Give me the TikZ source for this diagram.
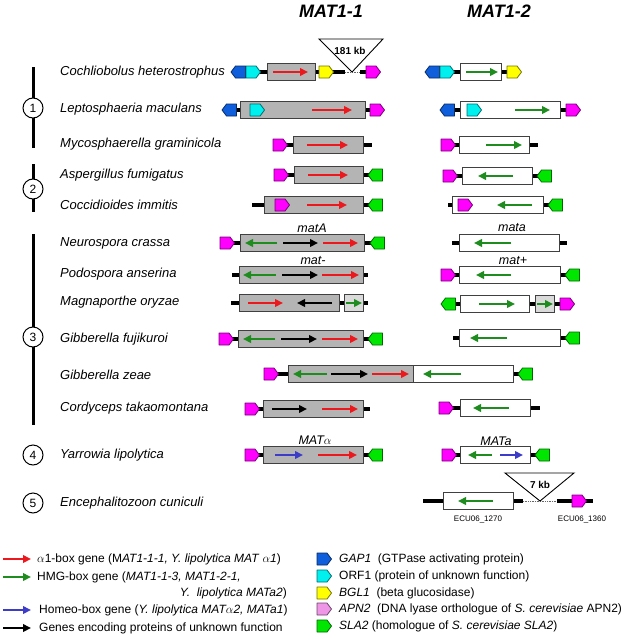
\documentclass[tikz,border=0pt]{standalone}
\usepackage{fontspec}
\setmainfont{Liberation Sans}
\usetikzlibrary{arrows.meta}
\definecolor{cred}{RGB}{235,25,30}
\definecolor{cgreen}{RGB}{30,140,30}
\definecolor{cblue}{RGB}{60,60,200}
\definecolor{pblue}{RGB}{15,95,220}
\definecolor{pcyan}{RGB}{0,240,240}
\definecolor{pyellow}{RGB}{255,255,0}
\definecolor{pmag}{RGB}{255,0,255}
\definecolor{pgreen}{RGB}{0,230,0}
\definecolor{ppink}{RGB}{240,150,230}
\definecolor{gbox}{RGB}{180,180,180}
\definecolor{lbox}{RGB}{218,218,218}
\tikzset{
 lnk/.style={line width=3.8pt, black},
 bx/.style={draw=black!75, line width=0.9pt},
 pent/.style={line width=0.8pt, line join=round},
 arr/.style={line width=2.7pt, -{Triangle[length=8pt,width=7.5pt]}},
 dots/.style={densely dotted, line width=0.7pt, black!60},
 spec/.style={font=\fontsize{13}{15}\selectfont\itshape, anchor=west, inner sep=0pt},
 leg/.style={font=\fontsize{12}{14}\selectfont, anchor=west, inner sep=0pt},
 grp/.style={circle, draw, line width=1pt, fill=white, minimum size=20pt, inner sep=0pt, font=\fontsize{12}{14}\selectfont},
 lbl/.style={font=\fontsize{12.5}{14}\selectfont\itshape, inner sep=0pt},
 tri/.style={draw, line width=0.9pt, line join=miter},
 kb/.style={font=\fontsize{10}{12}\selectfont\bfseries, inner sep=0pt},
 ecu/.style={font=\fontsize{8}{10}\selectfont, inner sep=0pt},
 ttl/.style={font=\fontsize{18}{20}\selectfont\bfseries\itshape, inner sep=0pt},
 gbar/.style={line width=3pt}
}
\newcommand\LinkSeg[3]{\draw[lnk] (#1,#3) -- (#2,#3);}
\newcommand\GBox[4]{\draw[bx,fill=#4] (#1,{#3-8.5}) rectangle (#2,{#3+8.5});}
\newcommand\GeneR[3]{\draw[pent,fill=#3,draw=#3!45!black] (#1,{#2-6}) -- ({#1+10},{#2-6}) -- ({#1+14.5},#2) -- ({#1+10},{#2+6}) -- (#1,{#2+6}) -- cycle;}
\newcommand\GeneL[3]{\draw[pent,fill=#3,draw=#3!45!black] ({#1+14.5},{#2-6}) -- ({#1+4.5},{#2-6}) -- (#1,#2) -- ({#1+4.5},{#2+6}) -- ({#1+14.5},{#2+6}) -- cycle;}
\newcommand\GArr[4]{\draw[arr,#4] (#1,#3) -- (#2,#3);}
\begin{document}
\begin{tikzpicture}[x=1pt,y=-1pt]
\useasboundingbox (0,0) rectangle (623,637);
% titles
\node[ttl] (t1) at (331,11) {MAT1-1};
\node[ttl] (t2) at (499,11) {MAT1-2};
% group bars and circles
\draw[gbar] (33,67) -- (33,148);
\draw[gbar] (33,164) -- (33,212);
\draw[gbar] (33,234) -- (33,425);
\node[grp] (g1) at (33,108) {1};
\node[grp] (g2) at (33,189) {2};
\node[grp] (g3) at (33,337) {3};
\node[grp] (g4) at (33,455) {4};
\node[grp] (g5) at (33,503) {5};
% species
\node[spec] (s1) at (60,72) {Cochliobolus heterostrophus};
\node[spec] (s2) at (60,109) {Leptosphaeria maculans};
\node[spec] (s3) at (60,144) {Mycosphaerella graminicola};
\node[spec] (s4) at (60,175) {Aspergillus fumigatus};
\node[spec] (s5) at (60,205) {Coccidioides immitis};
\node[spec] (s6) at (60,243) {Neurospora crassa};
\node[spec] (s7) at (60,274) {Podospora anserina};
\node[spec] (s8) at (60,302) {Magnaporthe oryzae};
\node[spec] (s9) at (60,339) {Gibberella fujikuroi};
\node[spec] (s10) at (60,375) {Gibberella zeae};
\node[spec] (s11) at (60,408) {Cordyceps takaomontana};
\node[spec] (s12) at (60,455) {Yarrowia lipolytica};
\node[spec] (s13) at (60,503) {Encephalitozoon cuniculi};
% Row 1
\LinkSeg{240}{345}{72}
\draw[dots] (345,72) -- (360,72);
\LinkSeg{360}{372}{72}
\GeneL{231}{72}{pblue}
\GeneR{246}{72}{pcyan}
\GBox{267}{315}{72}{gbox}
\GArr{273}{308}{72}{cred}
\GeneR{319}{72}{pyellow}
\GeneR{366}{72}{pmag}
\draw[tri] (319,39) -- (383,39) -- (352,72) -- cycle;
\node[kb] (k181) at (350,51) {181 kb};
\LinkSeg{435}{515}{72}
\GeneL{425}{72}{pblue}
\GeneR{440}{72}{pcyan}
\GBox{460}{501}{72}{white}
\GArr{466}{498}{72}{cgreen}
\GeneR{507}{72}{pyellow}
% Row 2
\LinkSeg{230}{378}{110}
\GeneL{222}{110}{pblue}
\GBox{240}{365}{110}{gbox}
\GeneR{250}{110}{pcyan}
\GArr{312}{352}{110}{cred}
\GeneR{370}{110}{pmag}
\LinkSeg{448}{572}{110}
\GeneL{440}{110}{pblue}
\GBox{460}{560}{110}{white}
\GeneR{467}{110}{pcyan}
\GArr{515}{550}{110}{cgreen}
\GeneR{566}{110}{pmag}
% Row 3
\LinkSeg{280}{372}{145}
\GeneR{273}{145}{pmag}
\GBox{293}{363}{145}{gbox}
\GArr{307}{348}{145}{cred}
\LinkSeg{448}{538}{145}
\GeneR{441}{145}{pmag}
\GBox{459}{529}{145}{white}
\GArr{486}{522}{145}{cgreen}
% Row 4
\LinkSeg{280}{376}{175}
\GeneR{274}{175}{pmag}
\GBox{294}{363}{175}{gbox}
\GArr{308}{348}{175}{cred}
\GeneL{368}{175}{pgreen}
\LinkSeg{450}{545}{176}
\GeneR{443}{176}{pmag}
\GBox{462}{532}{176}{white}
\GArr{513}{478}{176}{cgreen}
\GeneL{537}{176}{pgreen}
% Row 5
\LinkSeg{252}{376}{205}
\GBox{264}{363}{205}{gbox}
\GeneR{275}{205}{pmag}
\GArr{307}{347}{205}{cred}
\GeneL{368}{205}{pgreen}
\LinkSeg{448}{555}{205}
\GBox{452}{543}{205}{white}
\GeneR{458}{205}{pmag}
\GArr{532}{497}{205}{cgreen}
\GeneL{548}{205}{pgreen}
% Row 6
\LinkSeg{227}{377}{243}
\GeneR{220}{243}{pmag}
\GBox{240}{364}{243}{gbox}
\GArr{277}{245}{243}{cgreen}
\GArr{283}{318}{243}{black}
\GArr{323}{358}{243}{cred}
\GeneL{370}{243}{pgreen}
\node[lbl] (matA) at (312,228) {matA};
\LinkSeg{452}{567}{243}
\GBox{459}{559}{243}{white}
\GArr{511}{474}{243}{cgreen}
\node[lbl] (mata) at (512,228) {mata};
% Row 7
\LinkSeg{232}{368}{275}
\GBox{239}{363}{275}{gbox}
\GArr{276}{243}{275}{cgreen}
\GArr{282}{318}{275}{black}
\GArr{322}{359}{275}{cred}
\node[lbl] (matm) at (313,261) {mat-};
\LinkSeg{448}{572}{275}
\GeneR{441}{275}{pmag}
\GBox{459}{560}{275}{white}
\GArr{511}{476}{275}{cgreen}
\GeneL{565}{275}{pgreen}
\node[lbl] (matp) at (513,261) {mat+};
% Row 8
\LinkSeg{231}{368}{303}
\GBox{239}{339}{303}{gbox}
\GArr{248}{283}{303}{cred}
\GArr{332}{297}{303}{black}
\GBox{344}{363}{303}{lbox}
\GArr{346}{362}{303}{cgreen}
\LinkSeg{448}{568}{304}
\GeneL{441}{304}{pgreen}
\GBox{460}{529}{304}{white}
\GArr{479}{515}{304}{cgreen}
\GBox{535}{554}{304}{lbox}
\GArr{537}{553}{304}{cgreen}
\GeneR{560}{304}{pmag}
% Row 9
\LinkSeg{226}{376}{339}
\GeneR{219}{339}{pmag}
\GBox{238}{363}{339}{gbox}
\GArr{275}{243}{339}{cgreen}
\GArr{281}{317}{339}{black}
\GArr{322}{358}{339}{cred}
\GeneL{368}{339}{pgreen}
\LinkSeg{453}{572}{338}
\GBox{459}{560}{338}{white}
\GArr{507}{470}{338}{cgreen}
\GeneL{565}{338}{pgreen}
% Row 10
\LinkSeg{271}{526}{374}
\GeneR{264}{374}{pmag}
\GBox{288}{413}{374}{gbox}
\GArr{327}{293}{374}{cgreen}
\GArr{331}{368}{374}{black}
\GArr{372}{409}{374}{cred}
\GBox{413}{513}{374}{white}
\GArr{461}{423}{374}{cgreen}
\GeneL{518}{374}{pgreen}
% Row 11
\LinkSeg{252}{370}{409}
\GeneR{245}{409}{pmag}
\GBox{263}{363}{409}{gbox}
\GArr{272}{307}{409}{black}
\GArr{322}{358}{409}{cred}
\LinkSeg{446}{540}{408}
\GeneR{439}{408}{pmag}
\GBox{460}{530}{408}{white}
\GArr{509}{473}{408}{cgreen}
% Row 12
\LinkSeg{252}{376}{455}
\GeneR{245}{455}{pmag}
\GBox{263}{363}{455}{gbox}
\GArr{275}{303}{455}{cblue}
\GArr{318}{357}{455}{cred}
\GeneL{368}{455}{pgreen}
\node[lbl] (matal) at (315,440) {MAT$\alpha$};
\LinkSeg{449}{542}{455}
\GeneR{442}{455}{pmag}
\GBox{460}{530}{455}{white}
\GArr{492}{468}{455}{cgreen}
\GArr{500}{523}{455}{cblue}
\GeneL{535}{455}{pgreen}
\node[lbl] (matam) at (496,441) {MATa};
% Row 13
\LinkSeg{423}{523}{501}
\draw[dots] (523,501) -- (557,501);
\LinkSeg{557}{593}{501}
\GBox{443}{513}{501}{white}
\GArr{493}{458}{501}{cgreen}
\GeneR{572}{501}{pmag}
\draw[tri] (505,473) -- (574,473) -- (540,501) -- cycle;
\node[kb] (k7) at (540,485) {7 kb};
\node[ecu] (e1) at (478,519) {ECU06\_1270};
\node[ecu] (e2) at (582,519) {ECU06\_1360};
% legend left
\GArr{3}{31}{559}{cred}
\GArr{3}{31}{577}{cgreen}
\GArr{3}{31}{610}{cblue}
\GArr{3}{31}{628}{black}
\node[leg] (l1) at (37,559) {$\alpha$1-box gene (M\textit{AT1-1-1, Y. lipolytica MAT} $\alpha$\textit{1})};
\node[leg] (l2) at (37,577) {HMG-box gene (\textit{MAT1-1-3, MAT1-2-1,}};
\node[leg,anchor=east] (l2b) at (287,593) {\textit{Y.\ \ lipolytica MATa2})};
\node[leg] (l3) at (39,610) {Homeo-box gene (\textit{Y. lipolytica MAT$\alpha$2, MATa1})};
\node[leg] (l4) at (39,628) {Genes encoding proteins of unknown function};
% legend right
\GeneR{317}{559}{pblue}
\GeneR{317}{576}{pcyan}
\GeneR{317}{593}{pyellow}
\GeneR{317}{609}{ppink}
\GeneR{317}{626}{pgreen}
\node[leg] (r1) at (339,559) {\textit{GAP1}\ \ (GTPase activating protein)};
\node[leg] (r2) at (339,576) {ORF1 (protein of unknown function)};
\node[leg] (r3) at (339,593) {\textit{BGL1}\ \ (beta glucosidase)};
\node[leg] (r4) at (339,609) {\textit{APN2}\ \ (DNA lyase orthologue of \textit{S. cerevisiae} APN2)};
\node[leg] (r5) at (339,626) {\textit{SLA2} (homologue of \textit{S. cerevisiae SLA2})};
\end{tikzpicture}
\end{document}
